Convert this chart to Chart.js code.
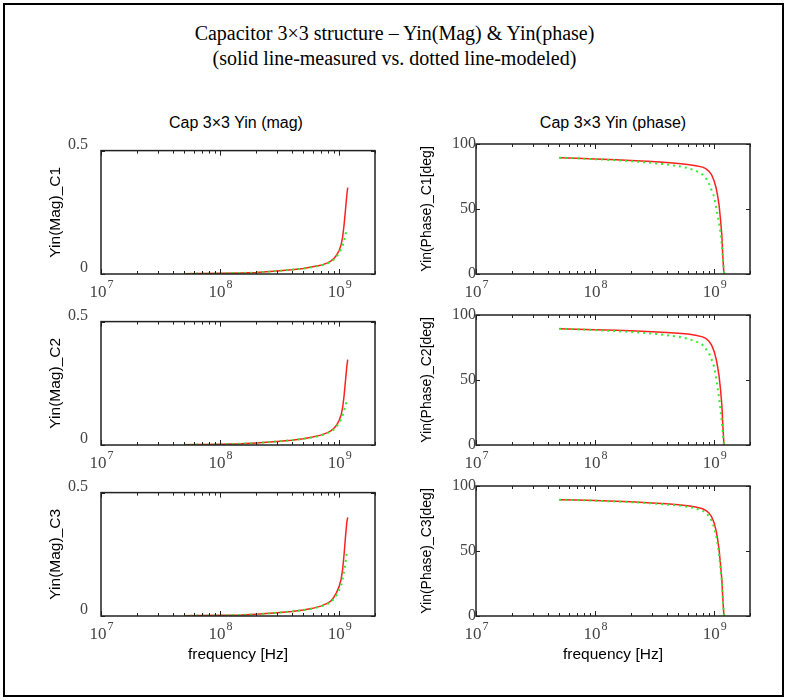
<!DOCTYPE html>
<html>
<head>
<meta charset="UTF-8">
<title>Capacitor 3x3 structure - Yin</title>
<script src="https://cdn.jsdelivr.net/npm/chart.js"></script>
<style>
  body { margin: 0; background: #fff; }
  #fig { position: relative; width: 789px; height: 700px; overflow: hidden; }
  #frame { position: absolute; left: 3px; top: 3px; width: 781px; height: 694px; border: 2px solid #000; box-sizing: border-box; }
  .title { position: absolute; left: 0; width: 789px; text-align: center; font-family: "Liberation Serif", "Times New Roman", serif; font-size: 20px; line-height: 24px; color: #000; }
  .sub { position: absolute; width: 300px; text-align: center; font-family: "Liberation Sans", Arial, sans-serif; font-size: 16px; line-height: 18px; color: #000; }
  canvas { position: absolute; }
</style>
</head>
<body>
<div id="fig">
  <div id="frame"></div>
  <div class="title" style="top:21px">Capacitor 3×3 structure – Yin(Mag) &amp; Yin(phase)</div>
  <div class="title" style="top:46px">(solid line-measured vs. dotted line-modeled)</div>
  <div class="sub" style="left:86px; top:114px">Cap 3×3 Yin (mag)</div>
  <div class="sub" style="left:463px; top:114px">Cap 3×3 Yin (phase)</div>

  <canvas id="mag1"></canvas>
  <canvas id="ph1"></canvas>
  <canvas id="mag2"></canvas>
  <canvas id="ph2"></canvas>
  <canvas id="mag3"></canvas>
  <canvas id="ph3"></canvas>
</div>

<script>
// frequency points [Hz]
const magFreq = [5e7, 7e7, 1e8, 1.5e8, 2e8, 3e8, 4e8, 5e8, 6e8, 7e8, 8e8, 8.5e8, 9e8, 9.5e8, 1e9, 1.04e9, 1.07e9, 1.1e9, 1.13e9, 1.16e9, 1.18e9];
const phaseFreq = [5e7, 7e7, 1e8, 1.5e8, 2e8, 3e8, 4e8, 5e8, 6e8, 7e8, 8e8, 8.5e8, 9e8, 9.5e8, 1e9, 1.04e9, 1.07e9, 1.1e9, 1.13e9, 1.16e9, 1.18e9, 1.2e9, 1.21e9];

// Yin magnitude, measured (solid) / modeled (dotted)
const magMeasC1  = [0.001, 0.002, 0.003, 0.004, 0.006, 0.012, 0.017, 0.022, 0.029, 0.035, 0.045, 0.052, 0.062, 0.076, 0.095, 0.12, 0.15, 0.2, 0.26, 0.32, 0.35];
const magModelC1 = [0.001, 0.002, 0.003, 0.004, 0.006, 0.012, 0.017, 0.022, 0.028, 0.034, 0.043, 0.05, 0.058, 0.07, 0.086, 0.1, 0.115, 0.135, 0.16, 0.18, null];
const magMeasC2  = [0.001, 0.002, 0.003, 0.005, 0.008, 0.014, 0.019, 0.025, 0.032, 0.04, 0.05, 0.057, 0.067, 0.08, 0.1, 0.123, 0.152, 0.2, 0.26, 0.32, 0.346];
const magModelC2 = [0.001, 0.002, 0.003, 0.005, 0.008, 0.014, 0.019, 0.025, 0.031, 0.038, 0.048, 0.054, 0.062, 0.074, 0.09, 0.105, 0.12, 0.14, 0.16, 0.18, null];
const magMeasC3  = [0.001, 0.002, 0.003, 0.004, 0.007, 0.013, 0.018, 0.024, 0.031, 0.04, 0.052, 0.06, 0.075, 0.095, 0.12, 0.15, 0.19, 0.25, 0.32, 0.38, 0.40];
const magModelC3 = [0.001, 0.002, 0.003, 0.004, 0.007, 0.013, 0.018, 0.024, 0.03, 0.038, 0.049, 0.056, 0.068, 0.084, 0.105, 0.125, 0.15, 0.18, 0.215, 0.26, null];

// Yin phase [deg]
const phaseMeasC1  = [89.5, 89, 88.5, 87.8, 87.3, 86.5, 85.7, 85, 84.2, 83.3, 82.2, 81, 79.2, 76.5, 71.5, 66, 60, 53, 42, 30, 15, 4, 0];
const phaseModelC1 = [89.5, 89, 88.3, 87.5, 86.8, 85.5, 84.2, 83, 81.5, 79.5, 76.5, 74, 70, 64.5, 59.5, 51, 45, 39, 32, 22, 14, 5, 0];
const phaseMeasC2  = [89.5, 89, 88.7, 88.2, 87.8, 87.2, 86.6, 86, 85.3, 84.5, 83.2, 82, 80, 77, 72, 66, 60, 53, 43, 31, 17, 5, 0];
const phaseModelC2 = [89.5, 89, 88.4, 87.6, 87, 85.8, 84.5, 83.2, 81.8, 79.8, 77, 74, 71, 66, 60, 51, 44, 36, 27, 18, 10, 3, 0];
const phaseMeasC3  = [89.5, 89.2, 88.8, 88.3, 87.8, 87, 86.3, 85.6, 84.8, 83.8, 82.5, 81.3, 79.5, 76.5, 71.5, 65.5, 59, 51, 40, 28, 15, 4, 0];
const phaseModelC3 = [89.5, 89.2, 88.7, 88.1, 87.6, 86.7, 85.8, 85, 84, 82.8, 81, 79.5, 77, 73.5, 68, 61.5, 55, 47, 37, 26, 14, 4, 0];

// axes
const xMin = 1e7, xMax = 2e9;
const xDecades = [1e7, 1e8, 1e9];
const xTickExp = ['7', '8', '9'];
const xMinorMult = [1, 2, 3, 4, 5, 6, 7, 8, 9];
const magYTicks = [0, 0.5];
const phaseYTicks = [0, 50, 100];

const SERIF = '"Liberation Serif", "Times New Roman", serif';
const SANS = '"Liberation Sans", Arial, sans-serif';

// box, inward ticks and 10^n labels
const framePlugin = {
  id: 'frame',
  afterDatasetsDraw(chart) {
    const {ctx, chartArea: a, scales: {x, y}} = chart;
    ctx.save();
    ctx.strokeStyle = '#222';
    ctx.lineWidth = 1;
    const seg = (x1, y1, x2, y2) => { ctx.beginPath(); ctx.moveTo(x1, y1); ctx.lineTo(x2, y2); ctx.stroke(); };
    xDecades.forEach(d => xMinorMult.forEach(m => {
      const v = d * m;
      if (v < x.min || v > x.max) return;
      const px = Math.round(x.getPixelForValue(v)) + 0.5;
      const len = m === 1 ? 5 : 3;
      seg(px, a.bottom, px, a.bottom - len);
      seg(px, a.top, px, a.top + len);
    }));
    y.ticks.forEach(t => {
      const py = Math.round(y.getPixelForValue(t.value)) + 0.5;
      seg(a.left, py, a.left + 4, py);
      seg(a.right, py, a.right - 4, py);
    });
    ctx.lineWidth = 1.5;
    ctx.strokeRect(a.left, a.top, a.right - a.left, a.bottom - a.top);

    // tick labels 10^n
    ctx.fillStyle = '#444';
    ctx.textBaseline = 'alphabetic';
    ctx.textAlign = 'left';
    xDecades.forEach((d, i) => {
      const px = x.getPixelForValue(d);
      ctx.font = '17px ' + SERIF;
      const wBase = ctx.measureText('10').width;
      ctx.font = '12px ' + SERIF;
      const wExp = ctx.measureText(xTickExp[i]).width;
      const x0 = px - (wBase + wExp) / 2;
      ctx.font = '17px ' + SERIF;
      ctx.fillText('10', x0, a.bottom + 23);
      ctx.font = '12px ' + SERIF;
      ctx.fillText(xTickExp[i], x0 + wBase + 1, a.bottom + 14);
    });
    ctx.restore();
  }
};

function makePlot(id, kind, row, meas, model) {
  const isMag = kind === 'mag';
  const areaTop = [144, 315, 486][row - 1];
  const left = isMag ? 40 : 400;
  const yW = isMag ? 61 : 76;
  const areaRight = isMag ? 375 : 750;
  const xH = 50;
  const padTop = 16, padRight = 12;
  const width = areaRight + padRight - left;
  const height = padTop + 130 + xH;

  const cv = document.getElementById(id);
  cv.width = width; cv.height = height;
  cv.style.left = left + 'px';
  cv.style.top = (areaTop - padTop) + 'px';

  const freq = isMag ? magFreq : phaseFreq;
  const pts = arr => freq.map((f, i) => ({x: f, y: arr[i]}));
  const yTicks = isMag ? magYTicks : phaseYTicks;

  new Chart(cv.getContext('2d'), {
    type: 'line',
    data: {
      datasets: [
        { label: 'modeled', data: pts(model), borderColor: '#2cf02c', borderWidth: 2,
          borderDash: [2, 4], pointRadius: 0, tension: 0, order: 0 },
        { label: 'measured', data: pts(meas), borderColor: '#ff2020', borderWidth: 1.5,
          pointRadius: 0, tension: 0, order: 1 }
      ]
    },
    options: {
      responsive: false,
      animation: false,
      events: [],
      layout: { padding: { top: padTop, right: padRight, left: 0, bottom: 0 } },
      plugins: { legend: { display: false }, tooltip: { enabled: false } },
      scales: {
        x: {
          type: 'logarithmic', min: xMin, max: xMax,
          grid: { display: false, drawTicks: false }, border: { display: false },
          ticks: { display: false },
          title: { display: row === 3, text: 'frequency [Hz]', color: '#000',
                   font: { family: SANS, size: 15.5 }, padding: { top: 0, bottom: 2 } },
          afterFit: s => { s.height = xH; }
        },
        y: {
          type: 'linear', min: 0, max: isMag ? 0.5 : 100,
          grid: { display: false, drawTicks: false }, border: { display: false },
          afterBuildTicks: s => { s.ticks = yTicks.map(v => ({value: v})); },
          ticks: {
            color: '#444', font: { family: SERIF, size: 16 },
            padding: isMag ? 13 : 0, labelOffset: isMag ? -6 : 0,
            callback: v => String(v)
          },
          title: { display: true, text: isMag ? 'Yin(Mag)_C' + row : 'Yin(Phase)_C' + row + '[deg]',
                   color: '#000', font: { family: SANS, size: isMag ? 15.5 : 14 },
                   padding: { top: isMag ? 6 : 19, bottom: 0 } },
          afterFit: s => { s.width = yW; }
        }
      }
    },
    plugins: [framePlugin]
  });
}

makePlot('mag1', 'mag', 1, magMeasC1, magModelC1);
makePlot('ph1', 'phase', 1, phaseMeasC1, phaseModelC1);
makePlot('mag2', 'mag', 2, magMeasC2, magModelC2);
makePlot('ph2', 'phase', 2, phaseMeasC2, phaseModelC2);
makePlot('mag3', 'mag', 3, magMeasC3, magModelC3);
makePlot('ph3', 'phase', 3, phaseMeasC3, phaseModelC3);
</script>
</body>
</html>
